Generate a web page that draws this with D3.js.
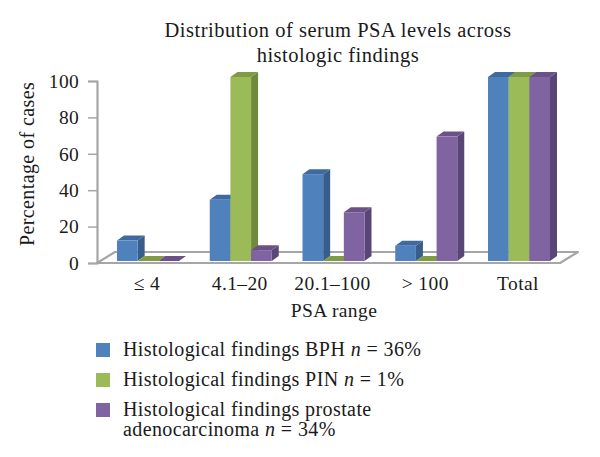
<!DOCTYPE html>
<html>
<head>
<meta charset="utf-8">
<script src="https://cdnjs.cloudflare.com/ajax/libs/d3/7.9.0/d3.min.js"></script>
<style>
  html, body { margin: 0; padding: 0; background: #fff; }
  text { font-family: "Liberation Serif", "DejaVu Serif", serif; fill: #1a1a1a; }
</style>
</head>
<body>
<svg id="chart" width="600" height="457"></svg>
<script>
// data (percent of cases per PSA range)
const categories = ['\u2264 4', '4.1\u201320', '20.1\u2013100', '> 100', 'Total'];
const seriesNames = ['BPH', 'PIN', 'prostate'];
const bphValues = [11.1, 33.3, 47.2, 8.3, 100];
const pinValues = [0, 100, 0, 0, 100];
const adenoValues = [0, 5.9, 26.5, 67.6, 100];
const yTicks = [0, 20, 40, 60, 80, 100];

const colors = {
  BPH: { front: '#4f81bd', side: '#385d8a', top: '#3f6aa0' },
  PIN: { front: '#9bbb59', side: '#6f8a3c', top: '#7f9c45' },
  prostate: { front: '#8064a2', side: '#5a4578', top: '#6a5288' }
};

const svg = d3.select('#chart');

// geometry
const depthX = 7, depthY = 5;
const axisX = 97;
const yAxis = d3.scaleLinear().domain([0, 100]).range([263, 81]);
const yBar = d3.scaleLinear().domain([0, 100]).range([261, 77]);

const x0 = d3.scaleBand().domain(categories).range([117, 550]).paddingInner(0.3315).paddingOuter(0);
const x1 = d3.scaleBand().domain(seriesNames).range([0, x0.bandwidth()]);

// title
const title = svg.append('g').attr('font-size', 20.5).attr('letter-spacing', 0.5);
title.append('text').attr('x', 338).attr('y', 37).attr('text-anchor', 'middle')
  .text('Distribution of serum PSA levels across');
title.append('text').attr('x', 338).attr('y', 62).attr('text-anchor', 'middle')
  .text('histologic findings');

// floor
const fy = 263, by = 252;
svg.append('path')
  .attr('d', `M${axisX},${fy} L560,${fy} L578,${by} L115,${by} Z`)
  .attr('fill', '#fff').attr('stroke', '#a6a6a6').attr('stroke-width', 2.2)
  .attr('stroke-linejoin', 'round');

// y axis
const ax = svg.append('g').attr('transform', `translate(${axisX},0)`)
  .call(d3.axisLeft(yAxis).tickValues(yTicks).tickSize(9).tickPadding(9));
ax.select('.domain').attr('stroke', '#a6a6a6').attr('stroke-width', 2.2);
ax.selectAll('.tick line').attr('stroke', '#a6a6a6').attr('stroke-width', 1.5);
ax.selectAll('.tick text').attr('font-size', 19.5).attr('letter-spacing', 0.3)
  .attr('font-family', '"Liberation Serif", serif').attr('fill', '#1a1a1a');

svg.append('text').attr('transform', 'translate(34,164) rotate(-90)')
  .attr('text-anchor', 'middle').attr('font-size', 20).attr('letter-spacing', 0.4)
  .text('Percentage of cases');

// bars
const rows = categories.map((c, i) => ({
  cat: c,
  vals: [
    { s: 'BPH', v: bphValues[i] },
    { s: 'PIN', v: pinValues[i] },
    { s: 'prostate', v: adenoValues[i] }
  ]
}));

const groups = svg.append('g').selectAll('g').data(rows).join('g')
  .attr('transform', d => `translate(${x0(d.cat)},0)`);

const bar = groups.selectAll('g.bar').data(d => d.vals).join('g').attr('class', 'bar');
bar.each(function (d) {
  const g = d3.select(this);
  const xl = x1(d.s), w = x1.bandwidth();
  const yt = yBar(d.v), yb = yBar(0);
  const c = colors[d.s];
  g.append('path')
    .attr('d', `M${xl + w},${yb} L${xl + w + depthX},${yb - depthY} L${xl + w + depthX},${yt - depthY} L${xl + w},${yt} Z`)
    .attr('fill', c.side);
  g.append('path')
    .attr('d', `M${xl},${yt} L${xl + depthX},${yt - depthY} L${xl + w + depthX},${yt - depthY} L${xl + w},${yt} Z`)
    .attr('fill', c.top);
  g.append('rect').attr('x', xl).attr('y', yt).attr('width', w).attr('height', Math.max(0, yb - yt))
    .attr('fill', c.front);
});

// x labels
const xl = svg.append('g').attr('font-size', 19.5).attr('letter-spacing', 0.4);
xl.selectAll('text').data(categories).join('text')
  .attr('x', d => x0(d) + x0.bandwidth() / 2 - 1).attr('y', 290)
  .attr('text-anchor', 'middle').text(d => d);

svg.append('text').attr('x', 334).attr('y', 317).attr('text-anchor', 'middle')
  .attr('font-size', 19.5).attr('letter-spacing', 0.4).text('PSA range');

// legend
const legendItems = [
  { s: 'BPH', lines: [['Histological findings BPH ', 'n', ' = 36%']] },
  { s: 'PIN', lines: [['Histological findings PIN ', 'n', ' = 1%']] },
  { s: 'prostate', lines: [['Histological findings prostate'], ['adenocarcinoma ', 'n', ' = 34%']] }
];
const legendY = [350, 380, 410];
const lg = svg.append('g');
legendItems.forEach((it, i) => {
  lg.append('rect').attr('x', 96).attr('y', legendY[i] - 7).attr('width', 14).attr('height', 14)
    .attr('fill', colors[it.s].front);
  it.lines.forEach((parts, j) => {
    const t = lg.append('text').attr('x', 123).attr('y', legendY[i] + 6 + j * 20)
      .attr('font-size', 20).attr('letter-spacing', 0.4);
    parts.forEach((p, k) => {
      t.append('tspan').attr('font-style', k === 1 ? 'italic' : null).text(p);
    });
  });
});
</script>
</body>
</html>
